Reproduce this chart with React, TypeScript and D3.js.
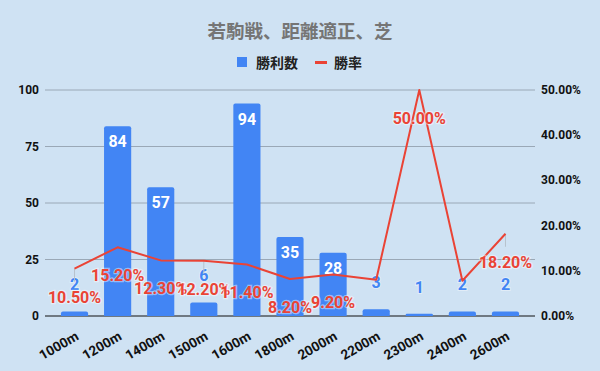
import { useEffect, useRef } from 'react'
import * as d3 from 'd3'

const categories = ['1000m', '1200m', '1400m', '1500m', '1600m', '1800m', '2000m', '2200m', '2300m', '2400m', '2600m']
const wins = [2, 84, 57, 6, 94, 35, 28, 3, 1, 2, 2]
const winRate = [0.105, 0.152, 0.123, 0.122, 0.114, 0.082, 0.092, 0.08, 0.5, 0.078, 0.182]
// rate labels shown by the original (some were hidden by overlap)
const rateLabelShown = [true, true, true, true, true, true, true, false, true, false, true]
const leaderCats = ['1000m', '1500m', '2600m']
const leftTicks = [0, 25, 50, 75, 100]
const rightTicks = [0, 0.1, 0.2, 0.3, 0.4, 0.5]

const BG = '#cfe2f3'
const BLUE = '#4285f4'
const RED = '#ea4335'
const FONT = 'Roboto, Arial, sans-serif'
const CJK = '"Noto Sans CJK JP", "Noto Sans", sans-serif'

export default function App() {
  const svgRef = useRef<SVGSVGElement | null>(null)

  useEffect(() => {
    const svgEl = svgRef.current
    if (!svgEl) return
    const svg = d3.select(svgEl)
    svg.selectAll('*').remove()

    const W = 600
    const H = 371
    const left = 45
    const right = 535
    const top = 90
    const bottom = 316

    svg.append('rect').attr('width', W).attr('height', H).attr('fill', BG)

    const x = d3.scaleBand<string>().domain(categories).range([left, right]).padding(0.37)
    const yL = d3.scaleLinear().domain([0, 100]).range([bottom, top])
    const yR = d3.scaleLinear().domain([0, 0.5]).range([bottom, top])
    const cx = (c: string) => (x(c) ?? 0) + x.bandwidth() / 2

    // title
    svg
      .append('text')
      .attr('x', 300)
      .attr('y', 38)
      .attr('text-anchor', 'middle')
      .attr('font-family', CJK)
      .attr('font-weight', 'bold')
      .attr('font-size', 18.5)
      .attr('fill', '#757575')
      .text('若駒戦、距離適正、芝')

    // legend
    const lg = svg.append('g').attr('font-family', CJK).attr('font-size', 14).attr('fill', '#222')
    lg.append('rect').attr('x', 237).attr('y', 57).attr('width', 10).attr('height', 10).attr('fill', BLUE)
    lg.append('text').attr('x', 256).attr('y', 67.5).attr('font-weight', 'bold').text('勝利数')
    lg.append('rect').attr('x', 315).attr('y', 61).attr('width', 12).attr('height', 3).attr('fill', RED)
    lg.append('text').attr('x', 334).attr('y', 67.5).attr('font-weight', 'bold').text('勝率')

    // gridlines
    svg
      .append('g')
      .selectAll('line')
      .data(leftTicks.filter((t) => t > 0))
      .enter()
      .append('line')
      .attr('x1', left)
      .attr('x2', right)
      .attr('y1', (d) => yL(d))
      .attr('y2', (d) => yL(d))
      .attr('stroke', '#9aa8b6')
      .attr('stroke-width', 1)

    // left axis labels
    svg
      .append('g')
      .selectAll('text')
      .data(leftTicks)
      .enter()
      .append('text')
      .attr('x', 39)
      .attr('y', (d) => yL(d) + 4)
      .attr('text-anchor', 'end')
      .attr('font-family', FONT)
      .attr('font-weight', 'bold')
      .attr('font-size', 12)
      .attr('fill', '#111')
      .text((d) => String(d))

    // right axis labels
    svg
      .append('g')
      .selectAll('text')
      .data(rightTicks)
      .enter()
      .append('text')
      .attr('x', 541)
      .attr('y', (d) => yR(d) + 4)
      .attr('font-family', FONT)
      .attr('font-weight', 'bold')
      .attr('font-size', 12)
      .attr('fill', '#111')
      .text((d) => d3.format('.2%')(d))

    // baseline
    svg
      .append('line')
      .attr('x1', left)
      .attr('x2', right)
      .attr('y1', bottom)
      .attr('y2', bottom)
      .attr('stroke', '#111')
      .attr('stroke-width', 1)

    // bars with rounded top
    const barPath = (c: string, v: number) => {
      const x0 = x(c) ?? 0
      const w = x.bandwidth()
      const y0 = yL(v)
      const r = Math.min(2, (bottom - y0) / 2)
      return `M${x0},${bottom}V${y0 + r}Q${x0},${y0} ${x0 + r},${y0}H${x0 + w - r}Q${x0 + w},${y0} ${x0 + w},${y0 + r}V${bottom}Z`
    }
    svg
      .append('g')
      .selectAll('path')
      .data(categories)
      .enter()
      .append('path')
      .attr('d', (c, i) => barPath(c, wins[i]))
      .attr('fill', BLUE)

    // bar labels
    const inside = (i: number) => bottom - yL(wins[i]) > 20
    svg
      .append('g')
      .selectAll('text')
      .data(categories)
      .enter()
      .append('text')
      .attr('x', (c) => cx(c))
      .attr('y', (c, i) => {
        const t = yL(wins[i])
        return inside(i) ? t + 21 : t - 21
      })
      .attr('text-anchor', 'middle')
      .attr('font-family', FONT)
      .attr('font-size', 16)
      .attr('font-weight', 'bold')
      .attr('fill', (c, i) => (inside(i) ? '#ffffff' : BLUE))
      .attr('stroke', (c, i) => (inside(i) ? 'none' : 'rgba(255,255,255,0.4)'))
      .attr('stroke-width', 2)
      .attr('paint-order', 'stroke')
      .text((c, i) => String(wins[i]))

    // leader lines
    svg
      .append('g')
      .selectAll('line')
      .data(leaderCats)
      .enter()
      .append('line')
      .attr('x1', (c) => cx(c))
      .attr('x2', (c) => cx(c))
      .attr('y1', (c) => yR(winRate[categories.indexOf(c)]))
      .attr('y2', (c) => yR(winRate[categories.indexOf(c)]) + 13)
      .attr('stroke', '#b7c2cc')
      .attr('stroke-width', 1)

    // rate line
    const line = d3
      .line<number>()
      .x((d, i) => cx(categories[i]))
      .y((d) => yR(d))
    svg
      .append('path')
      .attr('d', line(winRate) ?? '')
      .attr('fill', 'none')
      .attr('stroke', RED)
      .attr('stroke-width', 2)
      .attr('stroke-linejoin', 'round')

    // rate labels
    svg
      .append('g')
      .selectAll('text')
      .data(categories.filter((c, i) => rateLabelShown[i]))
      .enter()
      .append('text')
      .attr('x', (c) => cx(c))
      .attr('y', (c) => yR(winRate[categories.indexOf(c)]) + 34)
      .attr('text-anchor', 'middle')
      .attr('font-family', FONT)
      .attr('font-size', 16)
      .attr('font-weight', 'bold')
      .attr('fill', RED)
      .attr('stroke', 'rgba(255,255,255,0.45)')
      .attr('stroke-width', 2.5)
      .attr('paint-order', 'stroke')
      .text((c) => d3.format('.2%')(winRate[categories.indexOf(c)]))

    // x axis labels
    svg
      .append('g')
      .selectAll('text')
      .data(categories)
      .enter()
      .append('text')
      .attr('transform', (c) => `translate(${cx(c) + 5},${339}) rotate(-30)`)
      .attr('text-anchor', 'end')
      .attr('font-family', FONT)
      .attr('font-weight', 'bold')
      .attr('font-size', 13.5)
      .attr('fill', '#111')
      .text((c) => c)
  }, [])

  return <svg ref={svgRef} width={600} height={371} style={{ display: 'block', position: 'absolute', left: 0, top: 0 }} />
}
